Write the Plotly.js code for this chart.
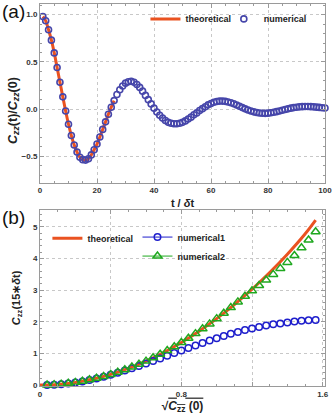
<!DOCTYPE html>
<html>
<head>
<meta charset="utf-8">
<script src="https://cdn.plot.ly/plotly-3.0.1.min.js"></script>
<style>
html, body {margin:0; padding:0; background:#fff}
#graph {width:332px; height:417px}
</style>
</head>
<body>
<div id="graph"></div>
<script>
// panel (a): autocorrelation vs time step
var tNum = [1,2,3,4,5,6,7,8,9,10,11,12,13,14,15,16,17,18,19,20,21,22,23,24,25,26,27,28,29,30,
  31,32,33,34,35,36,37,38,39,40,41,42,43,44,45,46,47,48,49,50,51,52,53,54,55,56,57,58,59,60,
  61,62,63,64,65,66,67,68,69,70,71,72,73,74,75,76,77,78,79,80,81,82,83,84,85,86,87,88,89,90,
  91,92,93,94,95,96,97,98,99,100]
var cNum = [0.98,0.935,0.84,0.73,0.595,0.44,0.285,0.13,-0.02,-0.16,-0.28,-0.38,-0.455,-0.51,-0.535,-0.54,-0.525,-0.485,-0.43,-0.37,
  -0.295,-0.215,-0.135,-0.055,0.02,0.09,0.155,0.205,0.245,0.275,0.29,0.295,0.285,0.26,0.23,0.19,0.145,0.10,0.055,0.01,
  -0.03,-0.065,-0.095,-0.12,-0.14,-0.15,-0.155,-0.155,-0.15,-0.14,-0.125,-0.105,-0.085,-0.06,-0.04,-0.015,0.005,0.025,0.045,0.06,
  0.072,0.08,0.085,0.085,0.082,0.076,0.067,0.056,0.043,0.03,0.016,0.003,-0.009,-0.02,-0.029,-0.036,-0.041,-0.044,-0.045,-0.043,
  -0.039,-0.034,-0.027,-0.02,-0.012,-0.004,0.003,0.01,0.016,0.02,0.024,0.026,0.027,0.027,0.026,0.024,0.021,0.018,0.015,0.012]
var tTh = [1,2,3,4,5,6,7,8,9,10,11,12,13,14,15,16,17,18,19,20,21,22,23,24,25,26]
var cTh = [0.98,0.935,0.84,0.73,0.595,0.44,0.285,0.13,-0.02,-0.16,-0.28,-0.38,-0.455,-0.51,-0.535,-0.54,-0.525,-0.485,-0.43,-0.37,
  -0.295,-0.215,-0.135,-0.055,0.02,0.09]

// panel (b): C_zz(15*dt) vs sqrt(C_zz(0))
var sB = [0.04,0.08,0.12,0.16,0.20,0.24,0.28,0.32,0.36,0.40,0.44,0.48,0.52,0.56,0.60,0.64,0.68,0.72,0.76,0.80,
  0.84,0.88,0.92,0.96,1.00,1.04,1.08,1.12,1.16,1.20,1.24,1.28,1.32,1.36,1.40,1.44,1.48,1.52,1.56]
var num1 = [0.002,0.011,0.027,0.05,0.08,0.115,0.158,0.207,0.262,0.322,0.388,0.458,0.53,0.605,0.68,0.76,0.84,0.925,1.01,1.09,
  1.17,1.25,1.33,1.41,1.48,1.55,1.62,1.68,1.74,1.79,1.84,1.88,1.92,1.95,1.98,2.01,2.03,2.05,2.06]
var num2 = [0.003,0.013,0.03,0.054,0.085,0.122,0.166,0.216,0.273,0.337,0.408,0.485,0.57,0.66,0.757,0.862,0.972,1.09,1.214,1.345,
  1.483,1.627,1.778,1.935,2.10,2.27,2.45,2.63,2.81,2.98,3.15,3.32,3.5,3.69,3.88,4.1,4.34,4.59,4.85]
var sTh = [0,0.1,0.2,0.3,0.4,0.5,0.6,0.7,0.8,0.9,1.0,1.1,1.2,1.3,1.4,1.5,1.56]
var czTh = [0,0.021,0.084,0.189,0.336,0.525,0.757,1.03,1.345,1.703,2.1,2.545,3.03,3.56,4.14,4.78,5.22]

var orange = '#EA5220', navy = '#4646AA', blue = '#1E1ECC', green = '#1FA81F'
var fnt = 'Liberation Sans, Arial, sans-serif'
var legFont = {family: fnt, size: 9, color: '#222', weight: 'bold'}

var traces = [
  {x: tTh, y: cTh, mode: 'lines', line: {color: orange, width: 3, shape: 'spline'},
   name: 'theoretical', legend: 'legend', xaxis: 'x', yaxis: 'y'},
  {x: tNum, y: cNum, mode: 'markers', cliponaxis: false,
   marker: {symbol: 'circle-open', size: 6, color: navy, line: {width: 1.6, color: navy}},
   name: 'numerical', legend: 'legend2', xaxis: 'x', yaxis: 'y'},

  {x: sTh, y: czTh, mode: 'lines', line: {color: orange, width: 3, shape: 'spline'},
   name: 'theoretical', legend: 'legend3', xaxis: 'x2', yaxis: 'y2'},
  {x: sB, y: num1, mode: 'markers', cliponaxis: false, showlegend: false,
   marker: {symbol: 'circle-open', size: 6.5, color: blue, line: {width: 1.5, color: blue}},
   xaxis: 'x2', yaxis: 'y2'},
  {x: sB, y: num2, mode: 'markers', cliponaxis: false, showlegend: false,
   marker: {symbol: 'triangle-up-open', size: 8, color: green, line: {width: 1.5, color: green}},
   xaxis: 'x2', yaxis: 'y2'},
  // legend-only entries (line + marker look)
  {x: [null], y: [null], mode: 'lines+markers', name: 'numerical1', legend: 'legend4',
   line: {color: blue, width: 1}, marker: {symbol: 'circle-open', size: 6.5, color: blue, line: {width: 1.5, color: blue}},
   xaxis: 'x2', yaxis: 'y2'},
  {x: [null], y: [null], mode: 'lines+markers', name: 'numerical2', legend: 'legend4',
   line: {color: green, width: 1}, marker: {symbol: 'triangle-up-open', size: 8, color: green, line: {width: 1.5, color: green}},
   xaxis: 'x2', yaxis: 'y2'}
]

var tickF = {family: fnt, size: 8, color: '#333', weight: 'bold'}
var titleF = {family: fnt, size: 11, color: '#222', weight: 'bold'}
function ax(extra) {
  var base = {
    showline: true, mirror: 'allticks', linecolor: '#9a9a9a', linewidth: 1,
    ticks: 'inside', ticklen: 4, tickcolor: '#9a9a9a', tickwidth: 1,
    showgrid: true, gridcolor: '#c8c8c8', griddash: 'dot', gridwidth: 1,
    zeroline: false, tickfont: tickF, fixedrange: true, ticklabeloverflow: 'allow'
  }
  for (var k in extra) base[k] = extra[k]
  return base
}

var layout = {
  width: 332, height: 417,
  margin: {l: 40, r: 7, t: 4, b: 31},
  paper_bgcolor: '#fff', plot_bgcolor: '#fff',
  showlegend: true,
  xaxis: ax({domain: [0, 1], range: [0, 100], tickvals: [0, 20, 40, 60, 80, 100], anchor: 'y',
    minor: {dtick: 5, ticks: 'inside', ticklen: 2, tickcolor: '#9a9a9a', showgrid: false},
    title: {text: 't / <i>δ</i>t', font: titleF, standoff: 4}}),
  yaxis: ax({domain: [0.532, 1], range: [-0.78, 1.113], tickvals: [-0.5, 0, 0.5, 1], tickformat: '.1f', anchor: 'x',
    minor: {dtick: 0.1, ticks: 'inside', ticklen: 2, tickcolor: '#9a9a9a', showgrid: false}}),
  xaxis2: ax({domain: [0, 1], range: [0, 1.613], tickvals: [0, 0.4, 0.8, 1.2, 1.6], ticktext: ['0', ' ', '0.8', ' ', '1.6'], anchor: 'y2',
    minor: {dtick: 0.1, ticks: 'inside', ticklen: 2, tickcolor: '#9a9a9a', showgrid: false},
    title: {text: '√<span style="text-decoration:overline"><i>C</i><sub>zz</sub> (0)</span>', font: {family: fnt, size: 12, color: '#222', weight: 'bold'}, standoff: 3}}),
  yaxis2: ax({domain: [0, 0.461], range: [-0.03, 5.54], tickvals: [0, 1, 2, 3, 4, 5], anchor: 'x2',
    minor: {dtick: 0.2, ticks: 'inside', ticklen: 2, tickcolor: '#9a9a9a', showgrid: false},
    title: {text: '<i>C</i><sub>zz</sub>(15∗<i>δ</i>t)', font: titleF, standoff: 10}}),
  legend: {x: 0.37, y: 0.961, xanchor: 'left', yanchor: 'middle', orientation: 'h', font: legFont, bgcolor: 'rgba(0,0,0,0)', borderwidth: 0},
  legend2: {x: 0.645, y: 0.961, xanchor: 'left', yanchor: 'middle', orientation: 'h', font: legFont, bgcolor: 'rgba(0,0,0,0)', borderwidth: 0},
  legend3: {x: 0.026, y: 0.387, xanchor: 'left', yanchor: 'middle', font: legFont, bgcolor: 'rgba(0,0,0,0)', borderwidth: 0},
  legend4: {x: 0.342, y: 0.365, xanchor: 'left', yanchor: 'middle', font: legFont, bgcolor: 'rgba(0,0,0,0)', borderwidth: 0, tracegroupgap: 0},
  annotations: [
    {text: '(a)', xref: 'paper', yref: 'paper', x: -0.14, y: 1.012, xanchor: 'left', yanchor: 'top', showarrow: false,
     font: {family: fnt, size: 19, color: '#111'}},
    {text: '(b)', xref: 'paper', yref: 'paper', x: -0.14, y: 0.474, xanchor: 'left', yanchor: 'top', showarrow: false,
     font: {family: fnt, size: 19, color: '#111'}},
    // y title of panel (a), centred a little below the plot middle as in the reference
    {text: '<i>C</i><sub><i>zz</i></sub>(t)/<i>C</i><sub><i>zz</i></sub>(0)', xref: 'paper', yref: 'paper',
     x: -0.092, y: 0.722, xanchor: 'center', yanchor: 'middle', textangle: -90, showarrow: false,
     font: {family: fnt, size: 12.5, color: '#222', weight: 'bold'}}
  ]
}

Plotly.newPlot('graph', traces, layout, {displayModeBar: false, staticPlot: true})
</script>
</body>
</html>
